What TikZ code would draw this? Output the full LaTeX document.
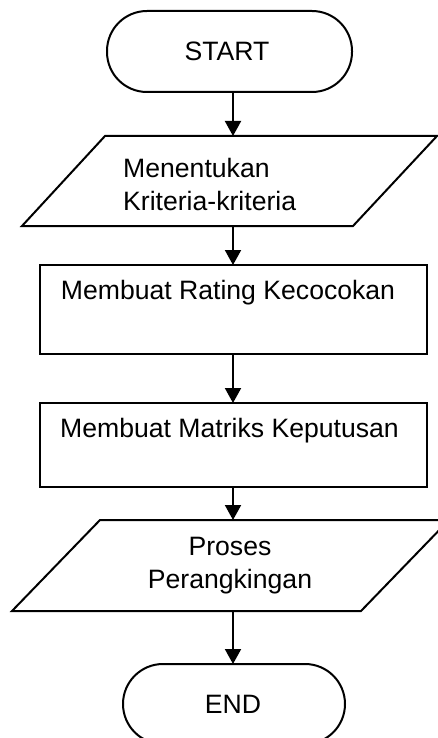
\documentclass[tikz,border=0pt]{standalone}
\usepackage{fontspec}
\setmainfont{Liberation Sans}
\usetikzlibrary{calc,arrows.meta}
\begin{document}
\begin{tikzpicture}[x=1pt,y=-1pt,
  base/.style={draw,line width=2pt,inner sep=0pt,outer sep=0pt},
  term/.style={base,rectangle,rounded corners=40pt},
  proc/.style={base,rectangle},
  iobox/.style={rectangle,inner sep=0pt,outer sep=0pt},
  ioline/.style={line width=2pt,line join=miter},
  txt/.style={inner sep=0pt,font=\fontsize{26.6}{33}\selectfont},
  arr/.style={line width=2pt,-{Triangle[length=15pt,width=16pt]}}]
\useasboundingbox (0,0) rectangle (438,738);
\clip (0,0) rectangle (438,738);
% shapes
\node[term,minimum width=245pt,minimum height=81pt] (start) at (229.5,51.5) {};
\node[iobox,minimum width=415pt,minimum height=90pt] (p1) at (229.5,181) {};
\draw[ioline] (p1.south west) -- ($(p1.north west)+(83,0)$) -- (p1.north east) -- ($(p1.south east)+(-84,0)$) -- cycle;
\node[proc,minimum width=387pt,minimum height=89pt] (r1) at (233.5,309.5) {};
\node[proc,minimum width=387pt,minimum height=84pt] (r2) at (233.5,445) {};
\node[iobox,minimum width=437pt,minimum height=91pt] (p2) at (230.5,565.5) {};
\draw[ioline] (p2.south west) -- ($(p2.north west)+(88,0)$) -- (p2.north east) -- ($(p2.south east)+(-88,0)$) -- cycle;
\node[term,minimum width=222pt,minimum height=80pt] (end) at (234,704) {};
% texts
\node[txt] (tstart) at (227,51) {START};
\node[txt,anchor=west,align=left] (tp1) at (123,184) {Menentukan\\Kriteria-kriteria};
\node[txt] (tr1) at (228,293) {Membuat Rating Kecocokan};
\node[txt] (tr2) at (229.5,431) {Membuat Matriks Keputusan};
\node[txt,align=center] (tp2) at (230,565.5) {Proses\\Perangkingan};
\node[txt] (tend) at (233,704) {END};
% connectors
\coordinate (ax) at (233,0);
\draw[arr] (start.south -| ax) -- (p1.north -| ax);
\draw[arr] (p1.south -| ax) -- (r1.north -| ax);
\draw[arr] (r1.south -| ax) -- (r2.north -| ax);
\draw[arr] (r2.south -| ax) -- (p2.north -| ax);
\draw[arr] (p2.south -| ax) -- (end.north -| ax);
\end{tikzpicture}
\end{document}
